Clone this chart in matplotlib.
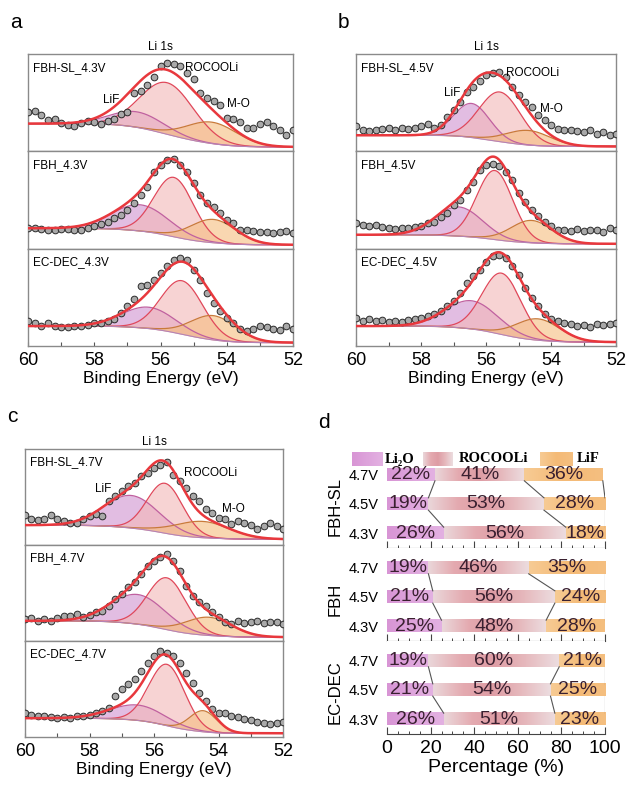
import numpy as np
import matplotlib.pyplot as plt
from matplotlib.colors import LinearSegmentedColormap

plt.rcParams['font.family'] = ['Liberation Sans', 'DejaVu Sans']

W, H = 627, 787

# binding energy grid of the measured points (eV)
be = np.round(np.arange(60.0, 51.99, -0.2), 1)

# measured intensity (a.u.) read at each energy in be, one list per spectrum
a1_pts = [40.5, 41.6, 37, 32.6, 33.7, 29, 26.8, 26, 29.5, 31, 30, 28.5, 31, 33.7, 38.8, 40.5,
          59.5, 62, 68, 76.6, 87.6, 90.4, 89.7, 87.6, 80.8, 73.9, 59.5, 55.3, 51.5, 47.4, 34.7,
          33, 30.2, 24.4, 24.4, 28.5, 30.2, 25.8, 22.3, 16.5, 21.6]
a2_pts = [21, 21, 20, 19.4, 18.7, 20, 20.4, 19.4, 19.4, 21, 22.8, 25, 27, 31, 34.7, 39.8,
          46.6, 55, 63.6, 79, 85.7, 90.8, 92.5, 85.7, 79, 67, 55, 46.6, 43, 36.4, 29.6,
          26.2, 19.4, 18.7, 17.7, 16.7, 16.7, 16, 16.7, 17.7, 16]
a3_pts = [25.6, 23.2, 20.5, 24, 21, 19.8, 19.8, 20.5, 21, 21.8, 23.2, 24, 25.6, 28, 34, 41,
          47.8, 61.4, 63, 68, 75, 82, 88.7, 90.4, 88.7, 78.5, 68, 54.6, 44.4, 35.8, 29,
          24, 17, 15.4, 17.7, 20.5, 19.8, 17, 16.4, 20.5, 17]
b1_pts = [25.8, 22.3, 21, 21.6, 23.4, 24.4, 21.6, 24.4, 23.4, 24.4, 25.8, 27.8, 24.4, 26.8, 35.4, 42.3,
          50.9, 61.2, 66.3, 72.5, 78.4, 80.8, 81.8, 76, 66.3, 57.7, 50.9, 45.7, 37, 32, 26.8,
          23.4, 21.6, 22.3, 21, 20, 21.6, 18.2, 20, 16.5, 18.2]
b2_pts = [26.2, 24.5, 22.8, 24.5, 22, 21, 20, 21, 21, 22, 22.8, 26.2, 27.9, 33, 36.4, 44.9,
          50, 60.2, 68.7, 80.6, 85.7, 87.4, 84.7, 79, 70.4, 56.8, 48.3, 39.8, 33.7, 27.9, 22.8,
          19.4, 18.7, 17.7, 20, 17.7, 19.4, 18.7, 16.7, 21, 19.4]
b3_pts = [29, 25.6, 28, 25.6, 26.6, 24.6, 25.6, 24.6, 26.6, 27.3, 29, 30.7, 32.4, 35.8, 41, 46,
          54.6, 64.8, 71.7, 78.5, 86, 92, 93.9, 90.4, 82, 73.4, 59.7, 49.5, 41, 32.4, 27.3,
          25.6, 24, 22.2, 20.5, 21.2, 19.8, 22.2, 21.2, 22.2, 24]
c1_pts = [31, 26.9, 26.2, 27.6, 31, 26.9, 25.2, 22.8, 23.4, 27.6, 29.7, 32, 30.3, 45.9, 51, 56.2,
          61.4, 64.8, 71.7, 75.2, 80.3, 83.8, 86.2, 72.4, 66.6, 59.7, 51, 45.9, 37.2, 33.8, 28.6,
          26.9, 21.7, 25.2, 23.4, 20.7, 16.6, 19.3, 23.4, 19.3, 16.6]
c2_pts = [23, 23.6, 21.2, 23, 21.2, 23.6, 25.7, 26.4, 28, 24.7, 27, 29.9, 31.6, 36.8, 43.8, 49,
          56, 61, 69.8, 78.5, 83.7, 87.2, 90.6, 83.7, 73.3, 57.6, 47.2, 40.3, 36.8, 29.9, 24.7,
          20.1, 17.7, 21.2, 18.8, 20.1, 21.2, 18.8, 20.1, 19.4, 17.7]
c3_pts = [25, 23.2, 22.1, 21.4, 20.7, 19.6, 20.7, 19.6, 21.4, 22.1, 22.8, 25, 26.7, 30.2, 42.5, 49.5,
          54.7, 60.7, 68.8, 77.5, 84.6, 89.8, 88, 84.6, 77.5, 67, 56.5, 46, 37.2, 29.1, 25,
          25, 22.1, 20.7, 18.6, 17.9, 16.1, 14.4, 13.7, 15.1, 16.1]

# fitted peaks (center eV, height, FWHM eV): LiF, ROCOOLi, M-O
a1_fit = [(56.7, 16, 1.9), (55.8, 53, 1.9), (54.45, 22, 1.8)]
a2_fit = [(56.6, 27, 2.0), (55.6, 61, 1.4), (54.4, 24, 1.6)]
a3_fit = [(56.35, 22, 1.9), (55.35, 55, 1.5), (54.4, 25, 1.6)]
b1_fit = [(56.44, 35, 1.3), (55.57, 51, 1.5), (54.7, 15, 1.6)]
b2_fit = [(56.84, 30, 1.7), (55.73, 71, 1.3), (54.6, 23, 1.5)]
b3_fit = [(56.44, 29, 1.9), (55.52, 63, 1.4), (54.4, 22, 1.6)]
c1_fit = [(56.7, 34, 2.0), (55.66, 52, 1.3), (54.5, 17, 2.0)]
c2_fit = [(56.5, 31, 2.0), (55.6, 54, 1.4), (54.3, 19, 1.7)]
c3_fit = [(56.5, 16, 2.0), (55.6, 64, 1.3), (54.47, 22, 1.0)]

# Shirley background level at 60 eV and at 52 eV
a1_bg, a2_bg, a3_bg = (28.5, 4.5), (21, 4), (20.5, 3.5)
b1_bg, b2_bg, b3_bg = (16.5, 5), (14.3, 5), (20.5, 4)
c1_bg, c2_bg, c3_bg = (20.7, 6), (21, 4), (19.6, 3.9)

# panel d: component fractions (%), rows 4.7V, 4.5V, 4.3V
groups = ['FBH-SL', 'FBH', 'EC-DEC']
voltages = ['4.7V', '4.5V', '4.3V']
li2o = [[22, 19, 26], [19, 21, 25], [19, 21, 26]]
rocooli = [[41, 53, 56], [46, 56, 48], [60, 54, 51]]
lif = [[36, 28, 18], [35, 24, 28], [21, 25, 23]]

fill_cols = ['#cf92cf', '#f3b7b7', '#f6bd7e']
edge_cols = ['#c0609f', '#e0485a', '#c97a3a']


def frame(l, t, r, b):
    return [l / W, 1 - b / H, (r - l) / W, (b - t) / H]


def draw_spectrum(ax, name, pts, fit, bg):
    e = np.linspace(52, 60, 400)
    comps = [A * np.exp(-4 * np.log(2) * (e - c) ** 2 / w ** 2) for c, A, w in fit]
    tot = sum(comps)
    cum = np.concatenate([[0], np.cumsum((tot[1:] + tot[:-1]) / 2 * np.diff(e))])
    base = bg[1] + (bg[0] - bg[1]) * cum / cum[-1]
    for comp, fc, ec in zip(comps, fill_cols, edge_cols):
        ax.fill_between(e, base, base + comp, color=fc, alpha=0.6, lw=0)
        ax.plot(e, base + comp, color=ec, lw=0.9)
    ax.plot(e, base, color='#b583b5', lw=0.8)
    ax.plot(be, pts, 'o', ms=4.8, mfc='#a9a9a9', mec='#2b2b2b', mew=0.7, zorder=3)
    ax.plot(e, base + tot, color='#e8383d', lw=1.8, zorder=4)
    ax.text(0.02, 0.86, name, transform=ax.transAxes, fontsize=8.5, va='center')
    ax.set_xlim(60, 52)
    ax.set_ylim(0, 100)
    ax.set_yticks([])
    for s in ax.spines.values():
        s.set_color('#8a8a8a')
        s.set_linewidth(1)


fig = plt.figure(figsize=(W / 100, H / 100), dpi=100)

spectra = [
    ('a', (28, 54, 293, 346), [('FBH-SL_4.3V', a1_pts, a1_fit, a1_bg),
                               ('FBH_4.3V', a2_pts, a2_fit, a2_bg),
                               ('EC-DEC_4.3V', a3_pts, a3_fit, a3_bg)],
     [(57.48, 52.6), (55.26, 86), (53.64, 48.5)]),
    ('b', (356, 54, 616, 346), [('FBH-SL_4.5V', b1_pts, b1_fit, b1_bg),
                                ('FBH_4.5V', b2_pts, b2_fit, b2_bg),
                                ('EC-DEC_4.5V', b3_pts, b3_fit, b3_bg)],
     [(57.04, 59.5), (55.37, 80.8), (54.0, 44)]),
    ('c', (25, 449, 283, 737), [('FBH-SL_4.7V', c1_pts, c1_fit, c1_bg),
                                ('FBH_4.7V', c2_pts, c2_fit, c2_bg),
                                ('EC-DEC_4.7V', c3_pts, c3_fit, c3_bg)],
     [(57.57, 58), (55.07, 75.2), (53.55, 37)]),
]

for letter, (l, t, r, b), rows, labpos in spectra:
    h = (b - t) / 3
    for i, (name, pts, fit, bg) in enumerate(rows):
        ax = fig.add_axes(frame(l, t + i * h, r, t + (i + 1) * h))
        draw_spectrum(ax, name, pts, fit, bg)
        if i == 0:
            ax.set_title('Li 1s', fontsize=8.5, pad=3)
            ax.text(*labpos[0], 'LiF', fontsize=8.5, ha='center', va='center')
            ax.text(*labpos[1], 'ROCOOLi', fontsize=8.5, ha='left', va='center')
            ax.text(*labpos[2], 'M-O', fontsize=8.5, ha='center', va='center')
        if i < 2:
            ax.set_xticks([])
        else:
            ax.set_xticks([60, 58, 56, 54, 52])
            ax.set_xticks(np.arange(52, 61, 1), minor=True)
            ax.tick_params(which='both', direction='in', length=3, width=0.8,
                           color='#555555', labelsize=13, pad=4)
            ax.set_xlabel('Binding Energy (eV)', fontsize=12.5, labelpad=2)
    fig.text((l - 18) / W, 1 - (t - 32) / H, letter, fontsize=15, va='center')

# ----- panel d -----
cm_li2o = LinearSegmentedColormap.from_list('li2o', ['#d895d5', '#e3b1e2'])
cm_roco = LinearSegmentedColormap.from_list('roco', ['#ead6d9', '#e4aab0', '#de9ca4', '#e6b9bd', '#ecdcdf'])
cm_lif = LinearSegmentedColormap.from_list('lif', ['#f7cb94', '#f4ba76', '#f5bf80'])
cmaps = [cm_li2o, cm_roco, cm_lif]
grad = np.linspace(0, 1, 64)[None, :]
bar_h = 0.42


def grad_bar(ax, x0, w, y, cmap):
    ax.imshow(grad, cmap=cmap, aspect='auto', interpolation='bicubic',
              extent=(x0, x0 + w, y + bar_h / 2, y - bar_h / 2), zorder=2)


dl, dr = 387, 605
d_tops = [455, 548, 641, 734]
for g, gname in enumerate(groups):
    ax = fig.add_axes(frame(dl, d_tops[g], dr, d_tops[g + 1]))
    parts = [li2o[g], rocooli[g], lif[g]]
    bounds = np.cumsum(np.array(parts), axis=0)
    for row in range(3):
        left = 0
        for k in range(3):
            v = parts[k][row]
            grad_bar(ax, left, v, row, cmaps[k])
            ax.text(left + v / 2, row, f'{v}%', ha='center', va='center',
                    fontsize=14, color='#3a2030', zorder=4)
            left += v
    for row in range(2):
        for k in range(3):
            x1 = min(bounds[k][row], 100)
            x2 = min(bounds[k][row + 1], 100)
            ax.plot([x1, x2], [row + bar_h / 2, row + 1 - bar_h / 2],
                    color='#555555', lw=0.8, zorder=3)
    ax.set_xlim(0, 100)
    ax.set_ylim(2.5, -0.67)
    ax.set_yticks([0, 1, 2])
    ax.set_yticklabels(voltages, fontsize=10.5)
    ax.tick_params(axis='y', length=0, pad=6)
    ax.set_xticks(range(0, 101, 20))
    ax.set_xticks(range(0, 101, 5), minor=True)
    ax.tick_params(axis='x', which='major', direction='in', length=5, width=0.8, color='#444444')
    ax.tick_params(axis='x', which='minor', direction='in', length=2.5, width=0.7, color='#444444')
    for side in ['left', 'right', 'top']:
        ax.spines[side].set_visible(False)
    ax.spines['bottom'].set_color('#444444')
    ax.spines['bottom'].set_linewidth(0.8)
    ax.text(-0.24, 0.45, gname, transform=ax.transAxes, rotation=90,
            fontsize=12, ha='center', va='center')
    if g < 2:
        ax.tick_params(axis='x', labelbottom=False)
    else:
        ax.tick_params(axis='x', labelsize=14, pad=4)
        ax.set_xlabel('Percentage (%)', fontsize=14, labelpad=2)

# legend for panel d
lax = fig.add_axes(frame(352, 452, 600, 466))
lax.axis('off')
swatches = [(352, 383, 'Li₂O', 385), (423, 453, 'ROCOOLi', 459), (540, 573, 'LiF', 577)]
for (x0, x1, txt, tx), cmap in zip(swatches, cmaps):
    lax.imshow(grad, cmap=cmap, aspect='auto', extent=(x0, x1, 1, 0))
    lax.text(tx, 0.5, txt, fontsize=10.5, fontweight='bold', va='center',
             family=['Liberation Serif', 'DejaVu Serif'])
lax.set_xlim(352, 600)
lax.set_ylim(1, 0)

fig.text(318 / W, 1 - 423 / H, 'd', fontsize=15, va='center')

fig.savefig('out.png', dpi=100)
